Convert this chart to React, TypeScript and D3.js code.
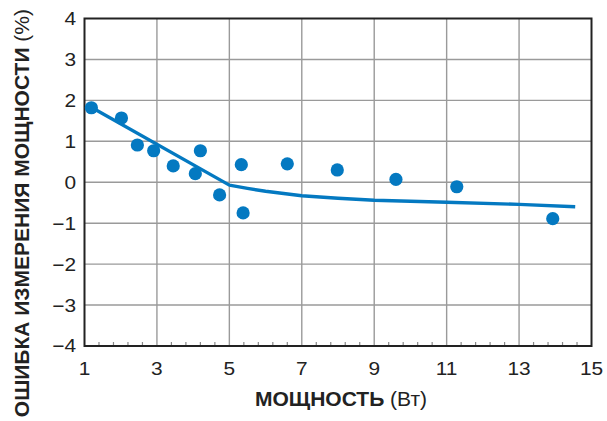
import React from "react";
import * as d3 from "d3";

const xTicks = [1, 3, 5, 7, 9, 11, 13, 15];
const yTicks = [-4, -3, -2, -1, 0, 1, 2, 3, 4];
const pointX = [1.19, 2.02, 2.46, 2.91, 3.45, 4.06, 4.2, 4.73, 5.33, 5.38, 6.6, 7.98, 9.6, 11.28, 13.93];
const pointY = [1.82, 1.57, 0.91, 0.77, 0.4, 0.21, 0.77, -0.31, 0.43, -0.75, 0.45, 0.3, 0.07, -0.11, -0.89];
const lineX = [1.15, 5, 5.5, 6, 7, 8, 9, 11, 13, 14.55];
const lineY = [1.85, -0.07, -0.15, -0.22, -0.33, -0.39, -0.44, -0.49, -0.54, -0.6];
const xTitleBold = "МОЩНОСТЬ";
const xTitleUnit = " (Вт)";
const yTitleBold = "ОШИБКА ИЗМЕРЕНИЯ МОЩНОСТИ";
const yTitleUnit = " (%)";

const W = 607;
const H = 421;
const BLUE = "#0479c1";

export default function App() {
  const x = d3.scaleLinear().domain([1, 15]).range([84.5, 591.5]);
  const y = d3.scaleLinear().domain([-4, 4]).range([346, 18.5]);
  const minor = d3.range(1, 15.001, 0.4).filter((v) => Math.abs((v - 1) / 2 - Math.round((v - 1) / 2)) > 0.01);
  const line = d3
    .line<number>()
    .x((_, i) => x(lineX[i]))
    .y((d) => y(d))
    .curve(d3.curveLinear);
  const font = "'Liberation Sans', Arial, sans-serif";
  const sx = 1.16;
  return (
    <svg width={W} height={H} style={{ position: "absolute", left: 0, top: 0 }} fontFamily={font}>
      <rect width={W} height={H} fill="#fff" />
      {xTicks.slice(1, -1).map((t) => (
        <line key={"gx" + t} x1={x(t)} x2={x(t)} y1={y(4)} y2={y(-4)} stroke="#9a9a9a" strokeWidth={1.4} />
      ))}
      {yTicks.slice(1, -1).map((t) => (
        <line key={"gy" + t} x1={x(1)} x2={x(15)} y1={y(t)} y2={y(t)} stroke="#9a9a9a" strokeWidth={1.4} />
      ))}
      {minor.map((t, i) => (
        <line key={"m" + i} x1={x(t)} x2={x(t)} y1={y(-4)} y2={y(-4) - 4} stroke="#888" strokeWidth={1.2} />
      ))}
      <rect x={x(1)} y={y(4)} width={x(15) - x(1)} height={y(-4) - y(4)} fill="none" stroke="#222" strokeWidth={2} />
      <path d={line(lineY) || ""} fill="none" stroke={BLUE} strokeWidth={3.4} strokeLinejoin="round" />
      {pointX.map((px, i) => (
        <circle key={"p" + i} cx={x(px)} cy={y(pointY[i])} r={6.6} fill={BLUE} />
      ))}
      {yTicks.map((t) => (
        <text key={"ty" + t} transform={`translate(76,${y(t)}) scale(${sx},1)`} dy="0.36em" textAnchor="end" fontSize={18} fill="#222">
          {t < 0 ? "\u2212" + Math.abs(t) : String(t)}
        </text>
      ))}
      {xTicks.map((t) => (
        <text key={"tx" + t} transform={`translate(${x(t)},375) scale(${sx},1)`} textAnchor="middle" fontSize={18} fill="#222">
          {t}
        </text>
      ))}
      <text x={341} y={405.5} textAnchor="middle" fontSize={21} fill="#222">
        <tspan fontWeight="bold">{xTitleBold}</tspan>
        <tspan>{xTitleUnit}</tspan>
      </text>
      <text transform="translate(29,9) rotate(-90)" textAnchor="end" fontSize={21} fill="#222">
        <tspan fontWeight="bold">{yTitleBold}</tspan>
        <tspan>{yTitleUnit}</tspan>
      </text>
    </svg>
  );
}
